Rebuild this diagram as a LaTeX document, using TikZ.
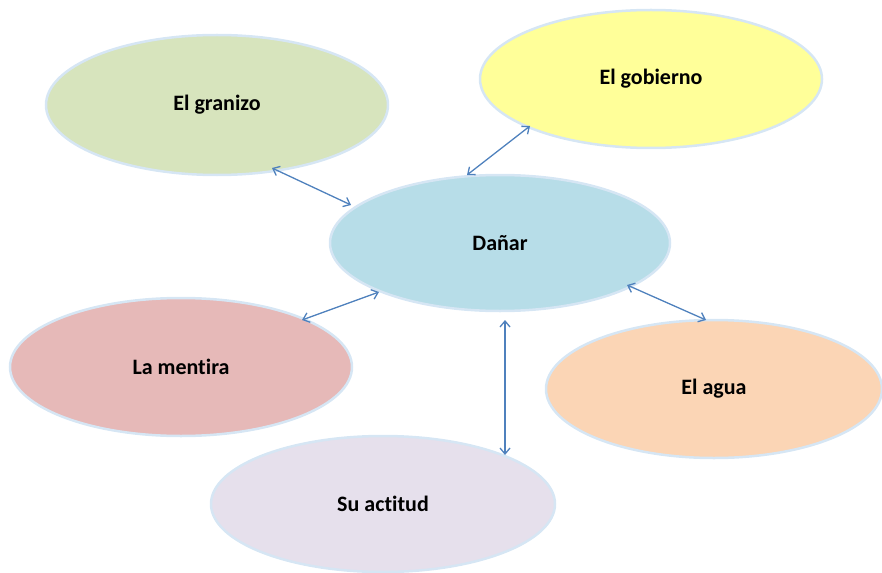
\documentclass[tikz,border=0pt]{standalone}
\usepackage{fontspec}
\setmainfont[Ligatures={NoCommon}]{Carlito}
\usetikzlibrary{arrows.meta}
\definecolor{cgran}{HTML}{D7E4BD}
\definecolor{cgob}{HTML}{FFFF99}
\definecolor{cdan}{HTML}{B7DDE8}
\definecolor{cmen}{HTML}{E6B9B8}
\definecolor{cagua}{HTML}{FBD5B5}
\definecolor{cact}{HTML}{E6E0EC}
\definecolor{cedge}{HTML}{D6E6F4}
\definecolor{carrow}{HTML}{4F81BD}
\tikzset{
  bubble/.style={draw=cedge, line width=2.5pt, fill=#1},
  lbl/.style={font=\fontsize{22}{26}\selectfont\bfseries, text=black},
  link/.style={draw=carrow, line width=1.3pt, {Straight Barb[length=6pt,width=10pt]}-{Straight Barb[length=6pt,width=10pt]}}
}
\begin{document}
\begin{tikzpicture}[x=1pt,y=-1pt]
\useasboundingbox (0,0) rectangle (882,572);
% ellipses
\draw[bubble=cgran] (217,105) ellipse [x radius=171, y radius=70];
\node[lbl] (granizo) at (217,105) {El granizo};
\draw[bubble=cgob] (651,79) ellipse [x radius=171, y radius=69];
\node[lbl] (gobierno) at (651,79) {El gobierno};
\draw[bubble=cdan] (500,243) ellipse [x radius=170, y radius=68];
\node[lbl] (danar) at (500,243) {Dañar};
\draw[bubble=cmen] (181,367) ellipse [x radius=171, y radius=69];
\node[lbl] (mentira) at (181,367) {La mentira};
\draw[bubble=cagua] (714,389) ellipse [x radius=168, y radius=69];
\node[lbl] (agua) at (714,389) {El agua};
\draw[bubble=cact] (383,504) ellipse [x radius=172, y radius=68];
\node[lbl] (actitud) at (383,504) {Su actitud};
% connector ends
\coordinate (g1) at (272,168); \coordinate (g2) at (351,205);
\coordinate (b1) at (530,126); \coordinate (b2) at (467,175);
\coordinate (m1) at (302,320); \coordinate (m2) at (379,292);
\coordinate (a1) at (627,285); \coordinate (a2) at (706,320);
\coordinate (s1) at (505,320); \coordinate (s2) at (505,455);
\draw[link] (g1) -- (g2);
\draw[link] (b1) -- (b2);
\draw[link] (m1) -- (m2);
\draw[link] (a1) -- (a2);
\draw[link] (s1) -- (s2);
\end{tikzpicture}
\end{document}
